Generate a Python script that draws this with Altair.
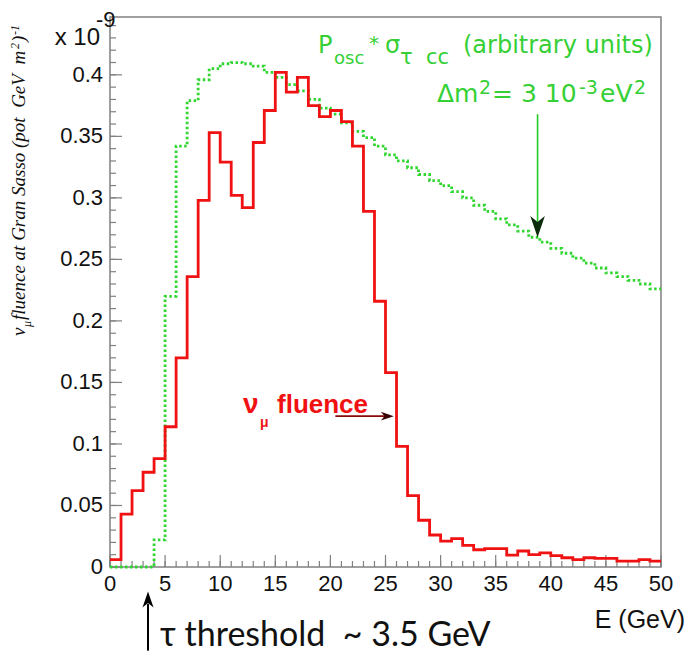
import altair as alt
import pandas as pd

# ---------------- data ----------------
bin_edges = list(range(0, 51))  # E (GeV), 1 GeV bins, 0..50

numu_fluence = [0.006, 0.043, 0.062, 0.077, 0.088, 0.114, 0.170, 0.236, 0.298, 0.353,
                0.329, 0.302, 0.292, 0.345, 0.371, 0.402, 0.386, 0.398, 0.375, 0.366,
                0.371, 0.362, 0.342, 0.289, 0.216, 0.158, 0.098, 0.058, 0.038, 0.026,
                0.021, 0.023, 0.0175, 0.014, 0.015, 0.015, 0.0096, 0.013, 0.010, 0.0115,
                0.0093, 0.0075, 0.006, 0.0075, 0.007, 0.007, 0.0047, 0.0047, 0.006, 0.0047]

posc_sigma = [0.0, 0.0, 0.0, 0.0, 0.022, 0.220, 0.342, 0.379, 0.396, 0.405,
              0.409, 0.410, 0.409, 0.407, 0.402, 0.398, 0.392, 0.387, 0.380, 0.373,
              0.368, 0.361, 0.354, 0.349, 0.342, 0.335, 0.330, 0.3245, 0.319, 0.314,
              0.310, 0.305, 0.300, 0.294, 0.289, 0.283, 0.278, 0.273, 0.268, 0.264,
              0.259, 0.255, 0.251, 0.247, 0.243, 0.239, 0.236, 0.233, 0.230, 0.226]

x_major = [0, 5, 10, 15, 20, 25, 30, 35, 40, 45, 50]
x_labels = ["0", "5", "10", "15", "20", "25", "30", "35", "40", "45", "50"]
x_minor = list(range(0, 51))
y_major = [0, 0.05, 0.1, 0.15, 0.2, 0.25, 0.3, 0.35, 0.4]
y_labels = ["0", "0.05", "0.1", "0.15", "0.2", "0.25", "0.3", "0.35", "0.4"]
y_minor = [round(i * 0.01, 2) for i in range(0, 45)]

# annotation anchors (data coordinates)
green_arrow_E, green_arrow_top, green_arrow_tip = 38.8, 0.368, 0.268
red_arrow_y, red_arrow_from, red_arrow_to = 0.1226, 20.45, 25.75
thr_E, thr_bottom, thr_tip = 3.45, -0.068, -0.020

RED = "#f01212"
GREEN = "#2fd62f"
GREEN_TXT = "#35d035"
AXC = "#808080"

W, H = 551, 550
xs = alt.Scale(domain=[0, 50], nice=False, zero=False)
ys = alt.Scale(domain=[0, 0.447], nice=False, zero=False)

red_df = pd.DataFrame({"E": bin_edges, "v": numu_fluence + [numu_fluence[-1]]})
green_df = pd.DataFrame({"E": bin_edges, "v": posc_sigma + [posc_sigma[-1]]})

X = lambda f: alt.X(f, scale=xs, axis=None)
Y = lambda f: alt.Y(f, scale=ys, axis=None)

red_line = alt.Chart(red_df).mark_line(
    interpolate="step-after", color=RED, strokeWidth=2.8
).encode(x=X("E:Q"), y=Y("v:Q"))

green_line = alt.Chart(green_df).mark_line(
    interpolate="step-after", color=GREEN, strokeWidth=2.8, strokeDash=[2.5, 2.5]
).encode(x=X("E:Q"), y=Y("v:Q"))

# tick labels drawn through the scales
ylab = alt.Chart(pd.DataFrame({"v": y_major, "t": y_labels})).mark_text(
    align="right", baseline="middle", font="Liberation Sans", fontSize=22, color="#111"
).encode(y=Y("v:Q"), x=alt.value(-7), text="t:N")
xlab = alt.Chart(pd.DataFrame({"E": x_major, "t": x_labels})).mark_text(
    align="center", baseline="middle", font="Liberation Sans", fontSize=22, color="#111"
).encode(x=X("E:Q"), y=alt.value(H + 17), text="t:N")

# inward ticks
def yticks(vals, length):
    return alt.Chart(pd.DataFrame({"v": vals})).mark_rule(color=AXC, strokeWidth=1.2).encode(
        y=Y("v:Q"), x=alt.value(0), x2=alt.value(length))

def xticks(vals, length):
    return alt.Chart(pd.DataFrame({"E": vals})).mark_rule(color=AXC, strokeWidth=1.2).encode(
        x=X("E:Q"), y=alt.value(H), y2=alt.value(H - length))

# arrows
def vline(E, y1, y2, color, width):
    return alt.Chart(pd.DataFrame({"E": [E], "a": [y1], "b": [y2]})).mark_rule(
        color=color, strokeWidth=width).encode(x=X("E:Q"), y=Y("a:Q"), y2="b:Q")

def hline(y, E1, E2, color, width):
    return alt.Chart(pd.DataFrame({"y": [y], "a": [E1], "b": [E2]})).mark_rule(
        color=color, strokeWidth=width).encode(y=Y("y:Q"), x=X("a:Q"), x2="b:Q")

HEAD_UP = "M0,0L0.55,1.6L0,1.15L-0.55,1.6Z"
HEAD_DOWN = "M0,0L0.55,-1.6L0,-1.15L-0.55,-1.6Z"
HEAD_RIGHT = "M0,0L-1.6,0.55L-1.15,0L-1.6,-0.55Z"

def head(E, y, shape, color, size):
    return alt.Chart(pd.DataFrame({"E": [E], "y": [y]})).mark_point(
        shape=shape, filled=True, color=color, size=size, opacity=1, strokeWidth=0).encode(
        x=X("E:Q"), y=Y("y:Q"))

def txt(s, x, y, size, color="#111", font="Liberation Sans", align="left", weight="normal",
        style="normal", angle=0, baseline="alphabetic"):
    return alt.Chart(pd.DataFrame({"t": [s]})).mark_text(
        align=align, baseline=baseline, fontSize=size, font=font, fontWeight=weight,
        fontStyle=style, color=color, angle=angle).encode(
        x=alt.value(x), y=alt.value(y), text="t:N")

NB = "\u00a0"
G = "DejaVu Sans"
SERIF = "Liberation Serif"
layers = [
    yticks(y_minor, 6), yticks(y_major, 12), xticks(x_minor, 6), xticks(x_major, 12),
    ylab, xlab,
    green_line, red_line,
    # green arrow
    vline(green_arrow_E, green_arrow_top, green_arrow_tip + 0.012, "#22cc22", 1.6),
    head(green_arrow_E, green_arrow_tip, HEAD_DOWN, "#0c2a0c", 700),
    # red arrow
    hline(red_arrow_y, red_arrow_from, red_arrow_to - 0.5, "#8a0a0a", 1.6),
    head(red_arrow_to, red_arrow_y, HEAD_RIGHT, "#3a0505", 260),
    # threshold arrow
    vline(thr_E, thr_bottom, thr_tip - 0.01, "#000", 2),
    head(thr_E, thr_tip, HEAD_UP, "#000", 400),
    # green labels
    txt("P", 208, 36, 24, GREEN_TXT, G),
    txt("osc", 224, 47, 18, GREEN_TXT, G),
    txt("*", 259, 33, 20, GREEN_TXT, G),
    txt("σ", 275, 36, 24, GREEN_TXT, G),
    txt("τ" + NB + NB + "cc", 290, 47, 21, GREEN_TXT, G),
    txt("(arbitrary units)", 353, 36, 24, GREEN_TXT, G),
    txt("Δm", 327, 85, 25, GREEN_TXT, G),
    txt("2", 369, 77, 19, GREEN_TXT, G),
    txt("=" + NB + "3" + NB + "10", 382, 85, 25, GREEN_TXT, G),
    txt("-3", 469, 77, 19, GREEN_TXT, G),
    txt("eV", 490, 85, 25, GREEN_TXT, G),
    txt("2", 524, 77, 19, GREEN_TXT, G),
    # red label
    txt("ν", 133, 396, 28, RED, weight="bold"),
    txt("μ", 150, 410, 14, RED, weight="bold"),
    txt("fluence", 167, 396, 26, RED, weight="bold"),
    # axis decorations
    txt("x 10", -10, 28, 24, "#111", align="right"),
    txt("-9", -14, 10, 22, "#111"),
    txt("E (GeV)", 575, 611, 25, "#111", align="right"),
    txt("τ threshold" + NB + NB + "~ 3.5 GeV", 50, 629, 34, "#111", font="Lato"),
    # rotated y title (reads bottom to top)
    txt("ν", -85, 319, 19, "#111", font=SERIF, style="italic", angle=270),
    txt("μ", -79, 310, 12, "#111", font=SERIF, style="italic", angle=270),
    txt("fluence at Gran Sasso (pot" + NB + NB + "GeV" + NB + NB + "m", -85, 303, 19, "#111",
        font=SERIF, style="italic", angle=270),
    txt("2", -91, 32, 12, "#111", font=SERIF, style="italic", angle=270),
    txt(")", -85, 25, 19, "#111", font=SERIF, style="italic", angle=270),
    txt("-1", -91, 18, 12, "#111", font=SERIF, style="italic", angle=270),
]

chart = alt.layer(*layers).properties(
    width=W, height=H,
    autosize=alt.AutoSizeParams(type="none"),
    padding={"left": 110, "top": 17, "right": 27, "bottom": 89},
    background="white",
).configure_view(stroke=AXC, strokeWidth=1.5)

chart.save("out.html", embed_options={"renderer": "svg", "actions": False})
